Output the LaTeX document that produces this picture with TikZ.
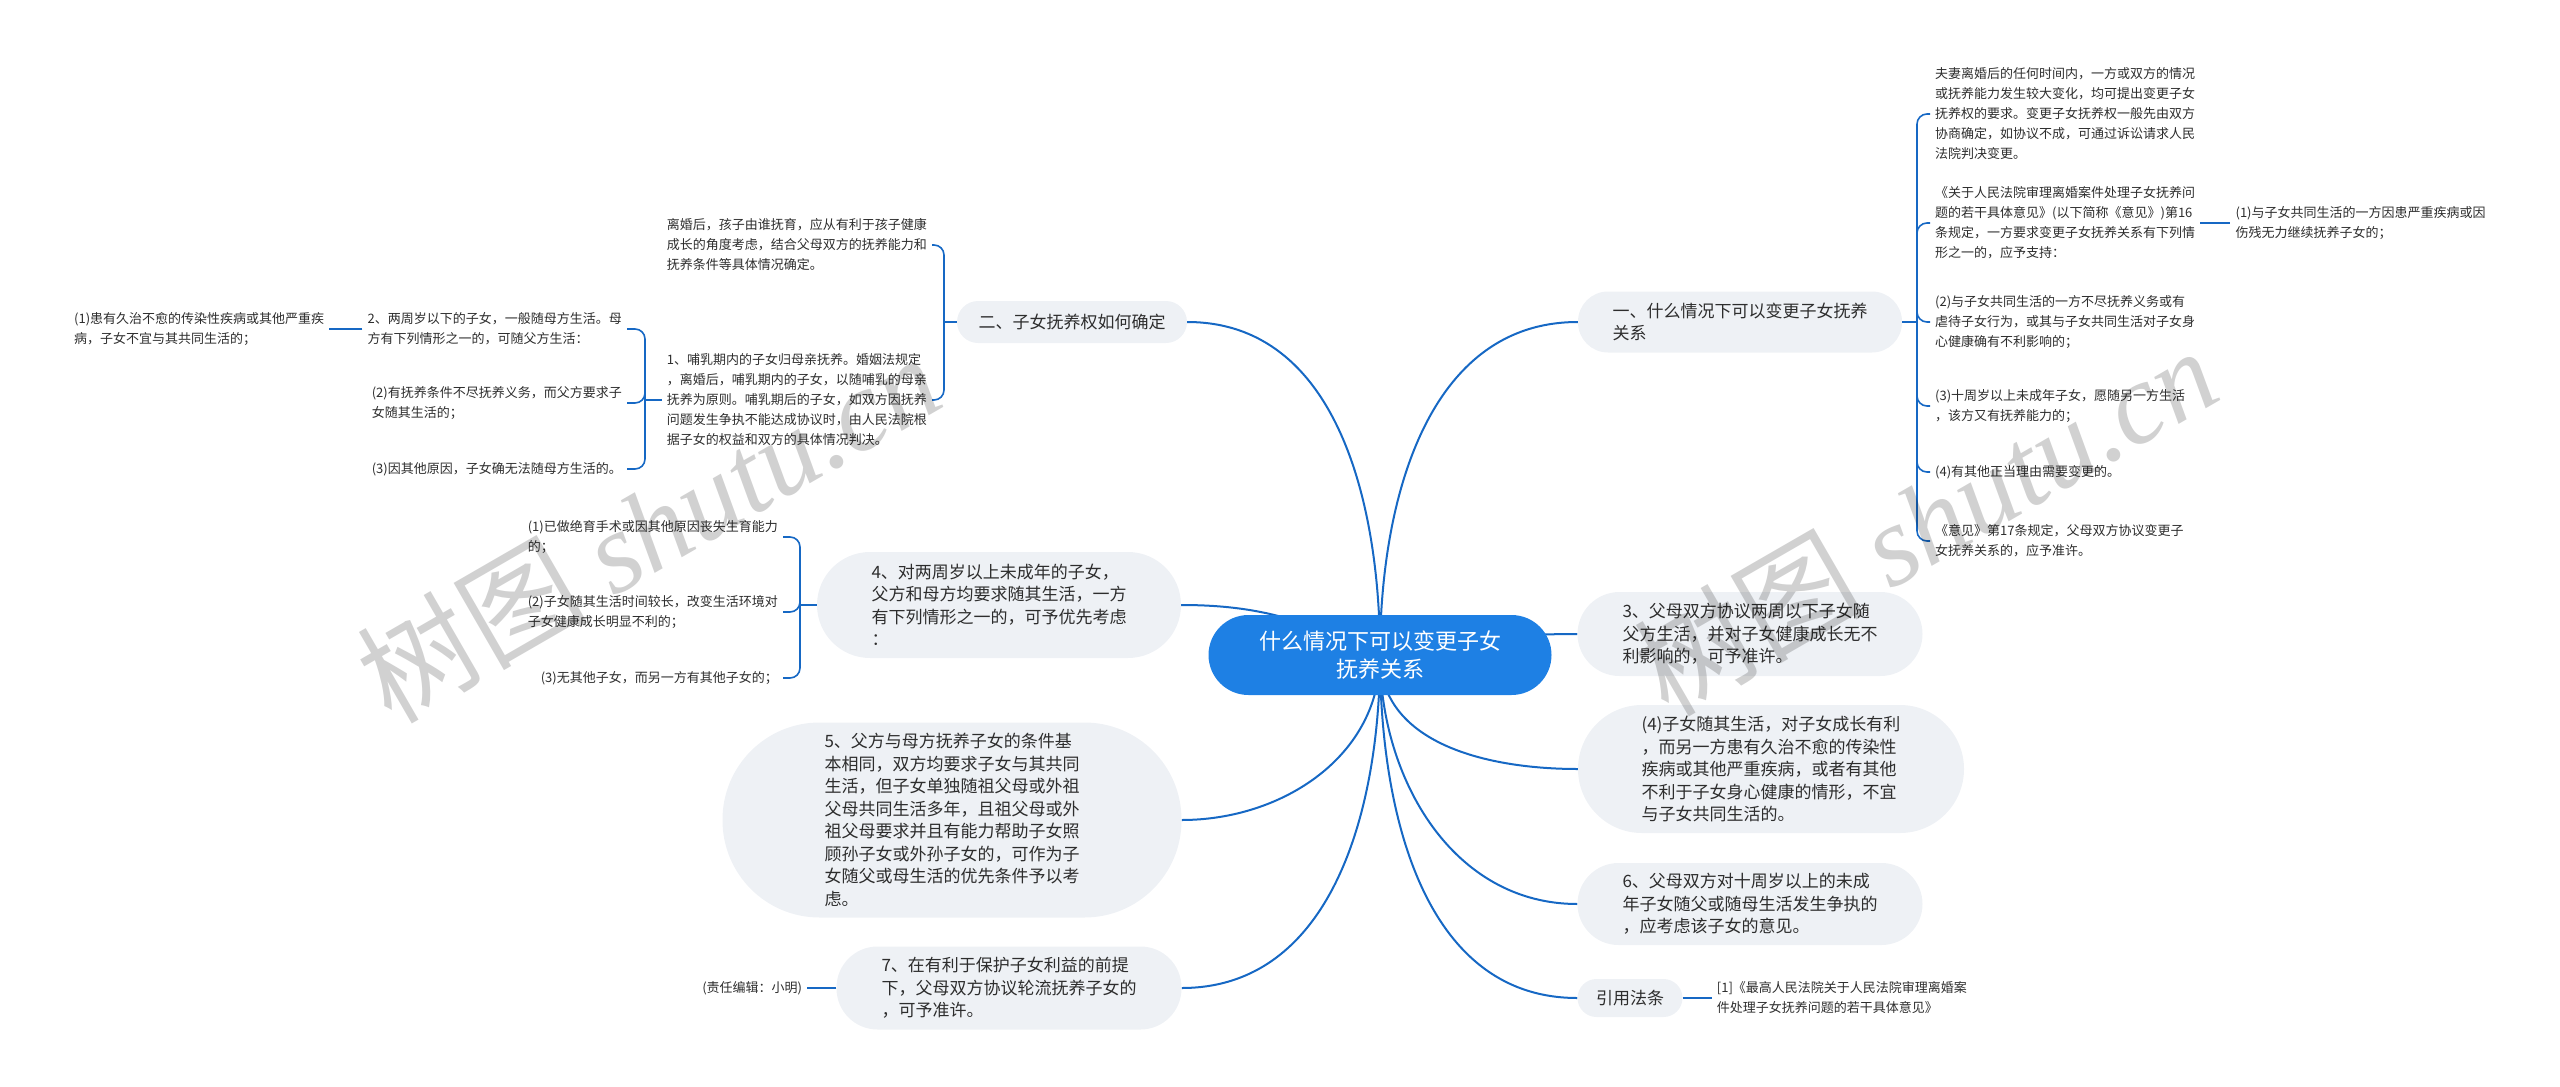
\documentclass[tikz,border=0pt]{standalone}
\usepackage{fontspec}
\setmainfont{Noto Sans CJK SC}
\newfontfamily\wmfont{Liberation Serif}
\usetikzlibrary{positioning,backgrounds}

\definecolor{rootblue}{RGB}{30,128,228}
\definecolor{linkblue}{RGB}{22,104,196}
\definecolor{boxgrey}{RGB}{238,241,245}
\definecolor{inkgrey}{RGB}{45,45,45}

\begin{document}
\begin{tikzpicture}[x=1pt, y=-1pt,
    rootnode/.style={fill=rootblue, text=white, rounded corners=40pt, minimum width=343pt, minimum height=80pt, align=center, inner sep=0pt, font=\fontsize{22}{28}\selectfont},
    branch/.style={fill=boxgrey, text=inkgrey, rounded corners=#1, align=left, inner sep=0pt, font=\fontsize{17}{22.5}\selectfont},
    branch/.default=20pt,
    leaf/.style={text=inkgrey, align=left, inner xsep=5pt, inner ysep=2pt, font=\fontsize{13}{20}\selectfont},
    mainlink/.style={draw=linkblue, line width=2pt},
    bracelink/.style={draw=linkblue, line width=1.6pt, rounded corners=10pt},
    wmark/.style={text=black, text opacity=0.18, rotate=30, font=\fontsize{115}{115}\selectfont}
  ]
  \useasboundingbox (0,0) rectangle (2560,1087);

  \node[rootnode] (root) at (1380,655) {什么情况下可以变更子女\\抚养关系};

  % right side
  \node[branch=30pt, minimum width=324pt, minimum height=61pt] (b1) at (1740,322) {一、什么情况下可以变更子女抚养\\关系};
  \node[branch=42pt, minimum width=345pt, minimum height=84pt] (b3) at (1750,634) {3、父母双方协议两周以下子女随\\父方生活，并对子女健康成长无不\\利影响的，可予准许。};
  \node[branch=64pt, minimum width=386pt, minimum height=128pt] (b4r) at (1771,769) {(4)子女随其生活，对子女成长有利\\，而另一方患有久治不愈的传染性\\疾病或其他严重疾病，或者有其他\\不利于子女身心健康的情形，不宜\\与子女共同生活的。};
  \node[branch=41pt, minimum width=345pt, minimum height=82pt] (b6) at (1750,904) {6、父母双方对十周岁以上的未成\\年子女随父或随母生活发生争执的\\，应考虑该子女的意见。};
  \node[branch=19pt, minimum width=105pt, minimum height=38pt] (bref) at (1630,998) {引用法条};

  \node[leaf, anchor=west] (lA) at (1930,114) {夫妻离婚后的任何时间内，一方或双方的情况\\或抚养能力发生较大变化，均可提出变更子女\\抚养权的要求。变更子女抚养权一般先由双方\\协商确定，如协议不成，可通过诉讼请求人民\\法院判决变更。};
  \node[leaf, anchor=west] (lB) at (1930,223) {《关于人民法院审理离婚案件处理子女抚养问\\题的若干具体意见》(以下简称《意见》)第16\\条规定，一方要求变更子女抚养关系有下列情\\形之一的，应予支持：};
  \node[leaf, right=30pt of lB] (lB1) {(1)与子女共同生活的一方因患严重疾病或因\\伤残无力继续抚养子女的；};
  \node[leaf, anchor=west] (lC) at (1930,322) {(2)与子女共同生活的一方不尽抚养义务或有\\虐待子女行为，或其与子女共同生活对子女身\\心健康确有不利影响的；};
  \node[leaf, anchor=west] (lD) at (1930,406) {(3)十周岁以上未成年子女，愿随另一方生活\\，该方又有抚养能力的；};
  \node[leaf, anchor=west] (lE) at (1930,472) {(4)有其他正当理由需要变更的。};
  \node[leaf, anchor=west] (lF) at (1930,541) {《意见》第17条规定，父母双方协议变更子\\女抚养关系的，应予准许。};
  \node[leaf, right=29pt of bref] (lref) {[1]《最高人民法院关于人民法院审理离婚案\\件处理子女抚养问题的若干具体意见》};

  % left side
  \node[branch=21pt, minimum width=230pt, minimum height=42pt] (b2) at (1072,322) {二、子女抚养权如何确定};
  \node[branch=53pt, minimum width=364pt, minimum height=106pt] (b4) at (999,605) {4、对两周岁以上未成年的子女，\\父方和母方均要求随其生活，一方\\有下列情形之一的，可予优先考虑\\：};
  \node[branch=97pt, minimum width=459pt, minimum height=195pt] (b5) at (952,820) {5、父方与母方抚养子女的条件基\\本相同，双方均要求子女与其共同\\生活，但子女单独随祖父母或外祖\\父母共同生活多年，且祖父母或外\\祖父母要求并且有能力帮助子女照\\顾孙子女或外孙子女的，可作为子\\女随父或母生活的优先条件予以考\\虑。};
  \node[branch=41pt, minimum width=345pt, minimum height=83pt] (b7) at (1009,988) {7、在有利于保护子女利益的前提\\下，父母双方协议轮流抚养子女的\\，可予准许。};

  \node[leaf, anchor=east] (l2a) at (932,245) {离婚后，孩子由谁抚育，应从有利于孩子健康\\成长的角度考虑，结合父母双方的抚养能力和\\抚养条件等具体情况确定。};
  \node[leaf, anchor=east] (l2b) at (932,400) {1、哺乳期内的子女归母亲抚养。婚姻法规定\\，离婚后，哺乳期内的子女，以随哺乳的母亲\\抚养为原则。哺乳期后的子女，如双方因抚养\\问题发生争执不能达成协议时，由人民法院根\\据子女的权益和双方的具体情况判决。};
  \node[leaf, anchor=east] (l2b1) at (627,329) {2、两周岁以下的子女，一般随母方生活。母\\方有下列情形之一的，可随父方生活：};
  \node[leaf, anchor=east] (l2b2) at (627,403) {(2)有抚养条件不尽抚养义务，而父方要求子\\女随其生活的；};
  \node[leaf, anchor=east] (l2b3) at (627,469) {(3)因其他原因，子女确无法随母方生活的。};
  \node[leaf, left=33pt of l2b1] (l2b1a) {(1)患有久治不愈的传染性疾病或其他严重疾\\病，子女不宜与其共同生活的；};
  \node[leaf, anchor=east] (l4a) at (783,537) {(1)已做绝育手术或因其他原因丧失生育能力\\的；};
  \node[leaf, anchor=east] (l4b) at (783,612) {(2)子女随其生活时间较长，改变生活环境对\\子女健康成长明显不利的；};
  \node[leaf, anchor=east] (l4c) at (783,678) {(3)无其他子女，而另一方有其他子女的；};
  \node[leaf, left=29pt of b7] (l7a) {(责任编辑：小明)};

  \coordinate (s1) at (1917,322);
  \coordinate (s2) at (944,322);
  \coordinate (s2b) at (645,400);
  \coordinate (s4) at (800,605);

  \begin{scope}[on background layer]
    \draw[mainlink] (root.center) to[out=90,in=180] (b1.west);
    \draw[mainlink] (root.center) to[out=10,in=180] (b3.west);
    \draw[mainlink] (root.center) to[out=-90,in=180] (b4r.west);
    \draw[mainlink] (root.center) to[out=-90,in=180] (b6.west);
    \draw[mainlink] (root.center) to[out=-90,in=180] (bref.west);
    \draw[mainlink] (root.center) to[out=90,in=0] (b2.east);
    \draw[mainlink] (root.center) to[out=155,in=0] (b4.east);
    \draw[mainlink] (root.center) to[out=-90,in=0] (b5.east);
    \draw[mainlink] (root.center) to[out=-90,in=0] (b7.east);
  \end{scope}

  \draw[bracelink] (b1.east) -- (s1);
  \foreach \leaf in {lA,lB,lC,lD,lE,lF}
    \draw[bracelink] (s1) |- (\leaf.west);
  \draw[bracelink] (lB.east) -- (lB1.west);
  \draw[bracelink] (bref.east) -- (lref.west);

  \draw[bracelink] (b2.west) -- (s2);
  \foreach \leaf in {l2a,l2b}
    \draw[bracelink] (s2) |- (\leaf.east);
  \draw[bracelink] (l2b.west) -- (s2b);
  \foreach \leaf in {l2b1,l2b2,l2b3}
    \draw[bracelink] (s2b) |- (\leaf.east);
  \draw[bracelink] (l2b1.west) -- (l2b1a.east);
  \draw[bracelink] (b4.west) -- (s4);
  \foreach \leaf in {l4a,l4b,l4c}
    \draw[bracelink] (s4) |- (\leaf.east);
  \draw[bracelink] (b7.west) -- (l7a.east);

  % watermark
  \node[wmark] (wm1) at (648,527) {树图 {\wmfont\itshape shutu.cn}};
  \node[wmark] (wm2) at (1925,520) {树图 {\wmfont\itshape shutu.cn}};
\end{tikzpicture}
\end{document}
